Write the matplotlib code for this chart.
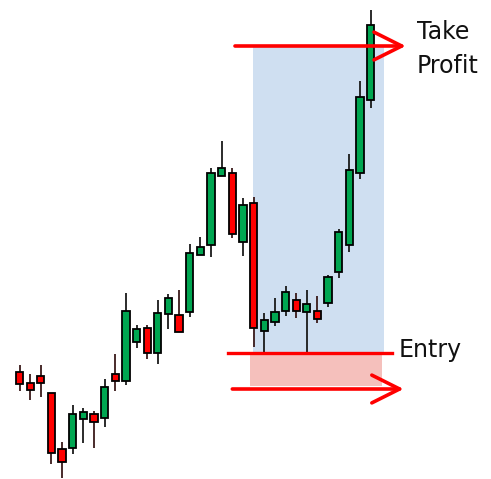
import numpy as np
import matplotlib
matplotlib.use("Agg")
import matplotlib.pyplot as plt
from matplotlib.patches import Rectangle

# candle data (arbitrary price units)
opens  = [107, 96, 103, 86, 30, 31, 60, 65, 61, 105, 98, 137, 151, 126, 165, 164, 167,
          224, 234, 303, 306, 237, 276, 148, 157, 168, 179, 167, 168, 176, 207, 234, 306, 379]
highs  = [114, 105, 114, 86, 37, 74, 71, 68, 100, 125, 186, 154, 154, 179, 185, 189, 235,
          242, 311, 338, 311, 281, 282, 166, 181, 193, 186, 189, 183, 204, 250, 325, 398, 469]
lows   = [88, 79, 82, 15, 1, 25, 36, 31, 52, 88, 94, 131, 120, 115, 150, 147, 162,
          224, 222, 303, 241, 223, 132, 127, 153, 163, 161, 127, 156, 172, 201, 227, 300, 371]
closes = [95, 89, 96, 26, 17, 65, 67, 57, 92, 98, 168, 150, 126, 166, 181, 147, 226,
          232, 306, 311, 245, 274, 151, 159, 167, 187, 168, 175, 160, 202, 247, 309, 382, 454]

take_profit = 433
entry = 126.5
stop_zone = 93
stop_arrow = 90
trade_start = 21.95
trade_end = 34.26

fig = plt.figure(figsize=(4.91, 4.79), dpi=100)
ax = fig.add_axes([0, 0, 1, 1])
ax.set_xlim(-1.833, 44.31)
ax.set_ylim(0, 479)
ax.axis("off")

# shaded zones
ax.add_patch(Rectangle((trade_start, entry), trade_end - trade_start, take_profit - entry,
                       facecolor="#cfdff1", edgecolor="none", zorder=0))
ax.add_patch(Rectangle((21.66, stop_zone), 34.07 - 21.66, entry - stop_zone,
                       facecolor="#f5c0bc", edgecolor="none", zorder=0))

x = np.arange(len(opens))
o = np.array(opens); c = np.array(closes)
up = c >= o
colors = np.where(up, "#00a651", "#ff0000")
wick_colors = np.where(up, "#1a1a1a", "#3a1a1a")

ax.vlines(x, lows, highs, colors=wick_colors, linewidth=1.3, zorder=2)
ax.bar(x, np.abs(c - o), bottom=np.minimum(o, c), width=0.68, color=colors,
       edgecolor="black", linewidth=1.3, zorder=3)

# entry line
ax.plot([19.55, 34.96], [entry, entry], color="#ff0000", linewidth=2.4, zorder=4)

# arrows
arrow = dict(arrowstyle="->, head_length=1.0, head_width=0.5", color="#ff0000",
             lw=2.6, shrinkA=0, shrinkB=0, mutation_scale=20)
ax.annotate("", xy=(36.3, take_profit), xytext=(20.25, take_profit), arrowprops=arrow, zorder=5)
ax.annotate("", xy=(36.1, stop_arrow), xytext=(20.0, stop_arrow), arrowprops=arrow, zorder=5)

ax.text(37.33, 439.7, "Take", fontsize=17, va="baseline", ha="left", color="#111111")
ax.text(37.33, 406, "Profit", fontsize=17, va="baseline", ha="left", color="#111111")
ax.text(35.6, 122.3, "Entry", fontsize=17, va="baseline", ha="left", color="#111111")

fig.savefig("out.png", dpi=100)
